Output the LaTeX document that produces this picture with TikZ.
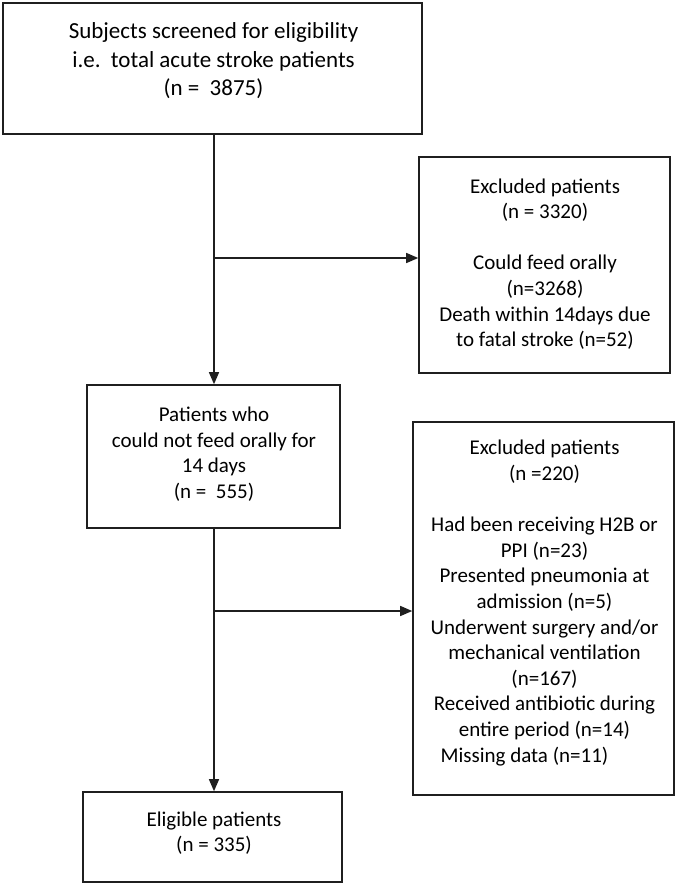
\documentclass[tikz,border=0pt]{standalone}
\usepackage{fontspec}
\setmainfont{Carlito}
\usetikzlibrary{arrows.meta}
\begin{document}
\begin{tikzpicture}[x=1pt,y=-1pt,
  boxx/.style={draw=black!88,line width=1.6pt,inner sep=0pt,rectangle},
  bigtxt/.style={align=center,inner sep=0pt,font=\fontsize{23}{28.5}\selectfont},
  txt/.style={align=center,inner sep=0pt,font=\fontsize{21}{25.6}\selectfont},
  arr/.style={draw=black!88,line width=1.4pt,-{Triangle[length=12pt,width=10pt]}},
  ln/.style={draw=black!88,line width=1.4pt}]
\useasboundingbox (0,0) rectangle (675,886);
\fill[white] (0,0) rectangle (675,886);
% boxes
\node[boxx,minimum width=419pt,minimum height=131pt] (b1) at (212.5,68.5) {};
\node[boxx,minimum width=251pt,minimum height=216pt] (b2) at (544.5,265) {};
\node[boxx,minimum width=253pt,minimum height=143pt] (b3) at (213.5,456.5) {};
\node[boxx,minimum width=261pt,minimum height=373pt] (b4) at (543.5,608.5) {};
\node[boxx,minimum width=259pt,minimum height=90pt] (b5) at (212.5,837) {};
% texts
\node[bigtxt] (t1) at (213.5,61) {Subjects screened for eligibility\\i.e.\ \ total acute stroke patients\\(n =\ \ 3875)};
\node[txt] (t2) at (545,264) {Excluded patients\\(n = 3320)\\[25.6pt]Could feed orally\\(n=3268)\\Death within 14days due\\to fatal stroke (n=52)};
\node[txt] (t3) at (214,454) {Patients who\\could not feed orally for\\14 days\\(n =\ \ 555)};
\node[txt] (t4) at (544.5,603) {Excluded patients\\(n =220)\\[25.6pt]Had been receiving H2B or\\PPI (n=23)\\Presented pneumonia at\\admission (n=5)\\Underwent surgery and/or\\mechanical ventilation\\(n=167)\\Received antibiotic during\\entire period (n=14)\\Missing data (n=11)\hspace*{40pt}};
\node[txt] (t5) at (214,833) {Eligible patients\\(n = 335)};
% connectors
\coordinate (j1) at (214,258);
\coordinate (j2) at (214,611);
\draw[arr] (b1.south -| j1) -- (b3.north -| j1);
\draw[arr] (j1) -- (j1 -| b2.west);
\draw[arr] (b3.south -| j2) -- (b5.north -| j2);
\draw[arr] (j2) -- (j2 -| b4.west);
\end{tikzpicture}
\end{document}
